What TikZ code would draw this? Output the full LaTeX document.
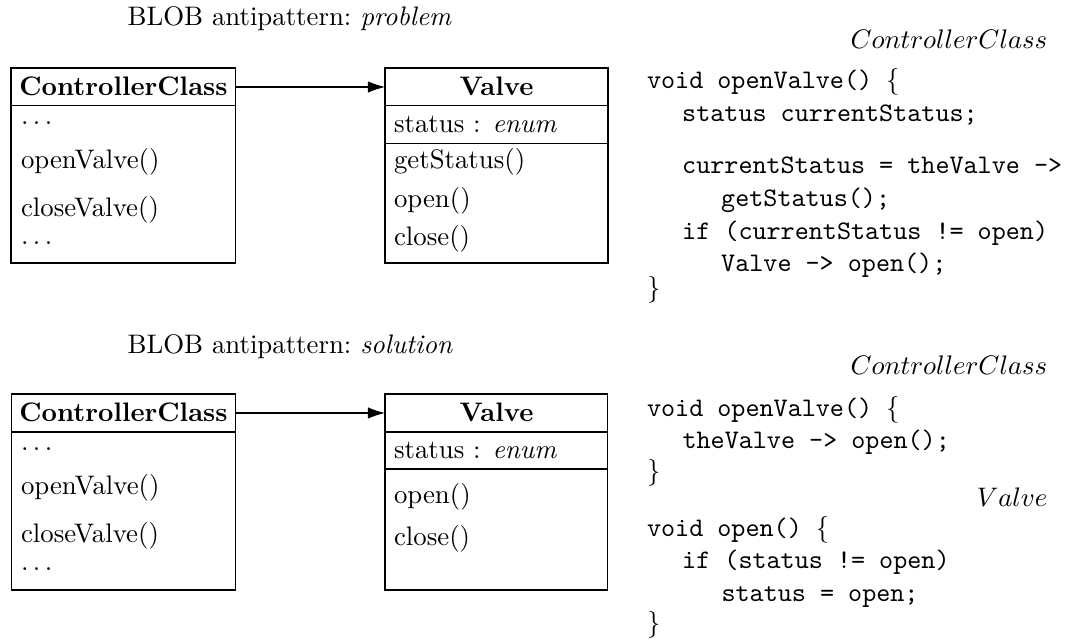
\documentclass[tikz,border=0pt]{standalone}
\usetikzlibrary{arrows.meta}

\begin{document}
\begin{tikzpicture}[
  x=0.37313pt, y=-0.37313pt,
  classbox/.style={draw, line width=0.4pt, inner sep=0pt, outer sep=0pt, anchor=north west},
  txt/.style={anchor=base west, inner sep=0pt},
  ctitle/.style={anchor=base, inner sep=0pt, font=\bfseries},
  code/.style={anchor=base west, inner sep=0pt, font=\ttfamily},
  owner/.style={anchor=base east, inner sep=0pt},
  rule/.style={line width=0.4pt},
  assoc/.style={line width=0.4pt, -{Latex[length=6.4pt,width=4.3pt]}}
]
\useasboundingbox (0,0) rectangle (1071,639);

% ---------------- problem ----------------
\node[txt] (t1) at (127,25.5) {\frenchspacing BLOB antipattern: \emph{problem}};

\node[classbox, minimum width=224.5*0.37313pt, minimum height=195*0.37313pt] (cc1) at (11,68) {};
\node[classbox, minimum width=223*0.37313pt, minimum height=195*0.37313pt] (v1) at (385,68) {};
\draw[rule] (cc1.west |- 0,105.5) -- (cc1.east |- 0,105.5);
\draw[rule] (v1.west |- 0,105.5) -- (v1.east |- 0,105.5);
\draw[rule] (v1.west |- 0,143.5) -- (v1.east |- 0,143.5);

\node[ctitle] (cc1n) at (123.5,96) {ControllerClass};
\node[txt] (cc1a) at (20.5,125) {$\ldots$};
\node[txt] (cc1b) at (20.5,169) {openValve()};
\node[txt] (cc1c) at (20.5,217) {closeValve()};
\node[txt] (cc1d) at (20.5,245) {$\ldots$};

\node[ctitle] (v1n) at (496.5,96) {Valve};
\node[txt] (v1a) at (393.5,133) {status : \emph{enum}};
\node[txt] (v1b) at (393.5,169) {getStatus()};
\node[txt] (v1c) at (393.5,208) {open()};
\node[txt] (v1d) at (393.5,246) {close()};

\draw[assoc] (cc1.east |- 0,87) -- (v1.west |- 0,87);

\node[owner] (o1) at (1048,49) {$ControllerClass$};
\node[code] (c11) at (646.5,89) {void openValve() $\{$};
\node[code] (c12) at (681.7,121.7) {status currentStatus;};
\node[code] (c13) at (681.7,173.3) {currentStatus = theValve ->};
\node[code] (c14) at (720.7,206.7) {getStatus();};
\node[code] (c15) at (681.7,239.3) {if (currentStatus != open)};
\node[code] (c16) at (720.7,271.7) {Valve -> open();};
\node[code] (c17) at (646.5,297) {$\}$};

% ---------------- solution ----------------
\node[txt] (t2) at (127,353.5) {\frenchspacing BLOB antipattern: \emph{solution}};

\node[classbox, minimum width=224*0.37313pt, minimum height=196*0.37313pt] (cc2) at (11.5,394) {};
\node[classbox, minimum width=222.5*0.37313pt, minimum height=196*0.37313pt] (v2) at (385,394) {};
\draw[rule] (cc2.west |- 0,432) -- (cc2.east |- 0,432);
\draw[rule] (v2.west |- 0,432) -- (v2.east |- 0,432);
\draw[rule] (v2.west |- 0,469) -- (v2.east |- 0,469);

\node[ctitle] (cc2n) at (123.5,422) {ControllerClass};
\node[txt] (cc2a) at (20.5,451) {$\ldots$};
\node[txt] (cc2b) at (20.5,495) {openValve()};
\node[txt] (cc2c) at (20.5,543) {closeValve()};
\node[txt] (cc2d) at (20.5,571) {$\ldots$};

\node[ctitle] (v2n) at (496.5,422) {Valve};
\node[txt] (v2a) at (393.5,459) {status : \emph{enum}};
\node[txt] (v2b) at (393.5,504) {open()};
\node[txt] (v2c) at (393.5,546) {close()};

\draw[assoc] (cc2.east |- 0,413) -- (v2.west |- 0,413);

\node[owner] (o2) at (1048,375) {$ControllerClass$};
\node[code] (c21) at (646.5,416.7) {void openValve() $\{$};
\node[code] (c22) at (682,448.5) {theValve -> open();};
\node[code] (c23) at (646.5,480) {$\}$};
\node[owner] (o3) at (1048,506.7) {$Valve$};
\node[code] (c24) at (646.5,536.7) {void open() $\{$};
\node[code] (c25) at (681.7,568.5) {if (status != open)};
\node[code] (c26) at (721,601.5) {status = open;};
\node[code] (c27) at (646.5,632) {$\}$};
\end{tikzpicture}
\end{document}
